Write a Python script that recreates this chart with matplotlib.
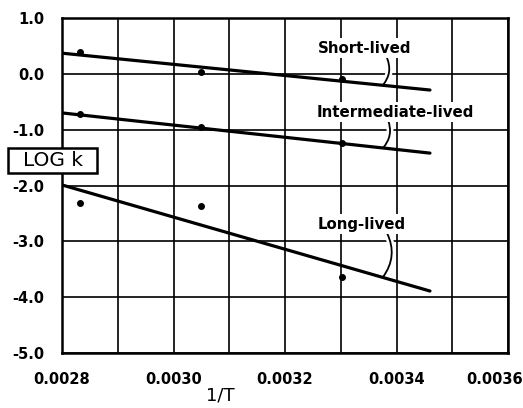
import matplotlib
matplotlib.use("Agg")
import matplotlib.pyplot as plt
import matplotlib.patheffects as pe
import matplotlib.transforms as mtransforms
from matplotlib.patches import Rectangle
from matplotlib.ticker import MultipleLocator, FormatStrFormatter

# Data
inv_T = [0.002832, 0.003049, 0.003302]
short_pts = [0.39, 0.03, -0.09]
inter_pts = [-0.72, -0.95, -1.24]
long_pts = [-2.32, -2.37, -3.64]

fit_x = [0.0028, 0.00346]
short_fit = [0.37, -0.29]
inter_fit = [-0.70, -1.42]
long_fit = [-1.99, -3.89]

series_labels = ["Short-lived", "Intermediate-lived", "Long-lived"]
x_ticks = [0.0028, 0.0030, 0.0032, 0.0034, 0.0036]
y_ticks = [1.0, 0.0, -1.0, -2.0, -3.0, -4.0, -5.0]

plt.rcParams['font.family'] = ['DejaVu Sans']
plt.rcParams['axes.unicode_minus'] = False

fig = plt.figure(figsize=(5.23, 4.08), dpi=100)
ax = fig.add_axes([62/523, 1-353/408, 446/523, 335/408])

ax.set_xlim(0.0028, 0.0036)
ax.set_ylim(-5.0, 1.0)
ax.set_xticks(x_ticks)
ax.xaxis.set_minor_locator(MultipleLocator(0.0001))
ax.set_yticks(y_ticks)
ax.xaxis.set_major_formatter(FormatStrFormatter('%.4f'))
ax.yaxis.set_major_formatter(FormatStrFormatter('%.1f'))
ax.tick_params(which='both', length=0)
ax.tick_params(axis='x', pad=14, labelsize=10.5)
ax.tick_params(axis='y', pad=13, labelsize=10.5)
for lab in ax.get_xticklabels() + ax.get_yticklabels():
    lab.set_fontweight('bold')
# last x label shifted left so it stays inside the figure
last = ax.get_xticklabels()[-1]
last.set_transform(last.get_transform() + mtransforms.ScaledTranslation(-13/100, 0, fig.dpi_scale_trans))

ax.grid(True, which='both', color='black', linewidth=1.2)
ax.set_axisbelow(True)
for s in ax.spines.values():
    s.set_linewidth(1.8)

for fit in (short_fit, inter_fit, long_fit):
    ax.plot(fit_x, fit, color='black', linewidth=2.3, solid_capstyle='round', zorder=4)
for pts in (short_pts, inter_pts, long_pts):
    ax.plot(inv_T, pts, 'o', color='black', markersize=4, zorder=5)

def px2data(px, py):
    x = 0.0028 + (px - 62) / 446 * 0.0008
    y = 1.0 - (py - 18) / 335 * 6.0
    return x, y

label_pos = [(318, 48), (317, 112), (318, 224)]
leaders = [((387, 58), (383, 85)), ((388, 120), (383, 148)), ((387, 233), (383, 277))]
for text, (lx, ly), (p0, p1) in zip(series_labels, label_pos, leaders):
    tx, ty = px2data(lx, ly)
    ax.text(tx, ty, text, ha='left', va='center', fontsize=10.8, fontweight='bold',
            bbox=dict(facecolor='white', edgecolor='none', pad=1.5), zorder=6)
    ax.annotate('', xy=px2data(*p1), xytext=px2data(*p0),
                arrowprops=dict(arrowstyle='-', color='black', linewidth=1.3,
                                connectionstyle='arc3,rad=-0.3',
                                shrinkA=0, shrinkB=0,
                                path_effects=[pe.Stroke(linewidth=5, foreground='white'), pe.Normal()]),
                zorder=3)

# LOG k boxed label
fig.patches.append(Rectangle((8/523, 1-173/408), 89/523, 25/408, transform=fig.transFigure,
                             facecolor='white', edgecolor='black', linewidth=1.8, zorder=10))
fig.text(53/523, 1-161/408, 'LOG k', fontsize=14.5, ha='center', va='center', zorder=11)

fig.text(220/523, 1-395/408, '1/T', fontsize=13, ha='center', va='center')

fig.savefig('out.png', dpi=100)
